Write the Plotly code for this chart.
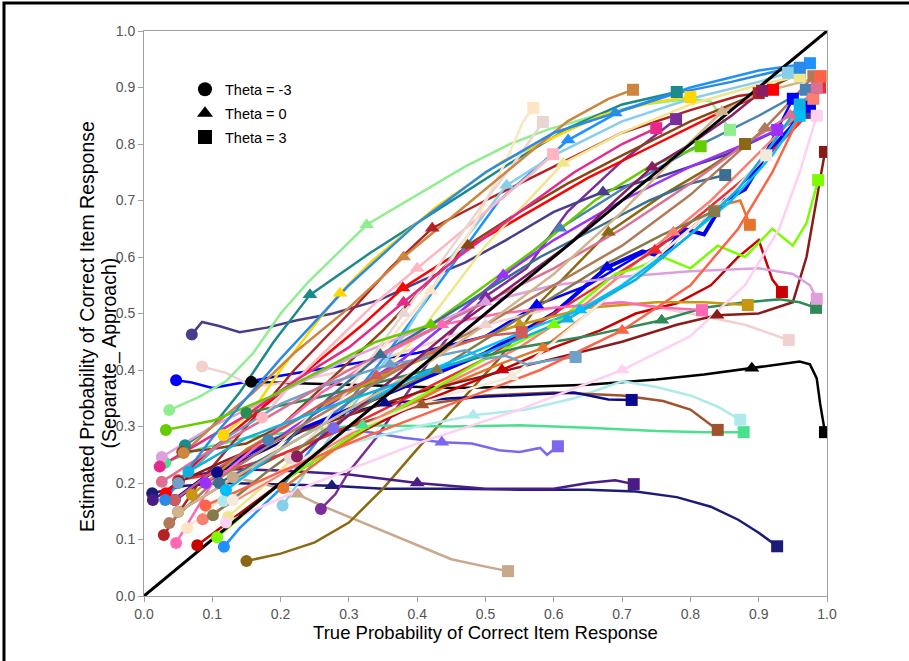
import plotly.graph_objects as go

# ---------------- data ----------------
X_TICKS = [0.0, 0.1, 0.2, 0.3, 0.4, 0.5, 0.6, 0.7, 0.8, 0.9, 1.0]
Y_TICKS = [0.0, 0.1, 0.2, 0.3, 0.4, 0.5, 0.6, 0.7, 0.8, 0.9, 1.0]
LEGEND_LABELS = ["Theta = -3", "Theta = 0", "Theta = 3"]
LEGEND_SYMBOLS = ["circle", "triangle-up", "square"]
X_TITLE = "True Probability of Correct Item Response"
Y_TITLE_LINES = ["Estimated Probability of Correct Item Response", "(Separate_ Approach)"]
DIAG_X = [0.0, 1.0]
DIAG_Y = [0.0, 1.0]

SERIES_COLORS = [
    "#000000", "#1c1c78", "#c9a98c", "#8b6914", "#4b1c85", "#7b2d9b", "#7b68ee",
    "#4be08e", "#aeeaea", "#a0522d", "#0a0a8c", "#0000ff", "#483d8b", "#f2d0d0",
    "#90ee90", "#1b8a8a", "#ffd700", "#b22222", "#8b4513", "#ff0000", "#1e90ff",
    "#87ceeb", "#f0e68c", "#4682b4", "#9b30ff", "#0000ee", "#fa8072", "#e8742a",
    "#ee2c2c", "#c80000", "#8b1a1a", "#7cfc00", "#2e8b57", "#dda0dd", "#c89610",
    "#ff69b4", "#ffb6c1", "#ffe4c4", "#e8d6d2", "#cd853f", "#e6298a", "#66cc00",
    "#f3e9dc", "#3b6e8f", "#857a4a", "#cd5c5c", "#6fa0c8", "#00bfff", "#db7093",
    "#b07a5a", "#8b1c62", "#2a8ae8", "#d2b48c", "#ffd0f0", "#ff6347", "#10b0e0",
]

SERIES_X = [
    [0.157, 0.25, 0.35, 0.45, 0.55, 0.65, 0.75, 0.82, 0.89, 0.93, 0.96, 0.975, 0.985, 0.99, 0.997],
    [0.012, 0.06, 0.12, 0.2, 0.275, 0.35, 0.45, 0.55, 0.65, 0.72, 0.78, 0.83, 0.87, 0.9, 0.927],
    [0.13, 0.17, 0.2, 0.225, 0.26, 0.3, 0.35, 0.4, 0.45, 0.5, 0.533],
    [0.15, 0.2, 0.25, 0.3, 0.35, 0.4, 0.46, 0.52, 0.58, 0.68, 0.76, 0.83, 0.88],
    [0.013, 0.06, 0.12, 0.2, 0.3, 0.4, 0.5, 0.6, 0.65, 0.69, 0.717],
    [0.259, 0.28, 0.3, 0.34, 0.38, 0.42, 0.46, 0.5, 0.56, 0.62, 0.7, 0.779],
    [0.277, 0.33, 0.38, 0.436, 0.48, 0.52, 0.55, 0.58, 0.59, 0.606],
    [0.031, 0.08, 0.15, 0.25, 0.32, 0.45, 0.55, 0.65, 0.75, 0.82, 0.878],
    [0.116, 0.2, 0.3, 0.4, 0.482, 0.56, 0.63, 0.7, 0.75, 0.8, 0.84, 0.873],
    [0.05, 0.12, 0.2, 0.3, 0.407, 0.5, 0.6, 0.7, 0.76, 0.8, 0.84],
    [0.107, 0.18, 0.26, 0.353, 0.45, 0.55, 0.63, 0.68, 0.714],
    [0.047, 0.07, 0.1, 0.13, 0.157, 0.2, 0.25, 0.3, 0.4, 0.5, 0.575, 0.65, 0.72, 0.8, 0.86, 0.9, 0.95],
    [0.07, 0.085, 0.11, 0.14, 0.18, 0.224, 0.277, 0.345, 0.41, 0.47, 0.53, 0.6, 0.672, 0.75, 0.85, 0.92, 0.975],
    [0.085, 0.12, 0.16, 0.22, 0.3, 0.4, 0.5, 0.6, 0.7, 0.8, 0.88, 0.944],
    [0.037, 0.08, 0.12, 0.16, 0.2, 0.24, 0.326, 0.4, 0.47, 0.536, 0.59, 0.66, 0.73, 0.8, 0.83, 0.858],
    [0.06, 0.1, 0.14, 0.19, 0.243, 0.331, 0.429, 0.536, 0.624, 0.7, 0.78],
    [0.116, 0.16, 0.2, 0.25, 0.287, 0.331, 0.429, 0.526, 0.668, 0.75, 0.8],
    [0.029, 0.08, 0.15, 0.22, 0.3, 0.36, 0.422, 0.5, 0.6, 0.7, 0.8, 0.87, 0.9],
    [0.056, 0.1, 0.15, 0.2, 0.27, 0.35, 0.42, 0.474, 0.55, 0.62, 0.7, 0.8, 0.9, 0.96],
    [0.032, 0.08, 0.14, 0.2, 0.26, 0.32, 0.379, 0.45, 0.55, 0.65, 0.75, 0.85, 0.921],
    [0.117, 0.14, 0.2, 0.27, 0.35, 0.43, 0.52, 0.621, 0.7, 0.8, 0.9, 0.975],
    [0.203, 0.26, 0.32, 0.38, 0.45, 0.531, 0.6, 0.7, 0.8, 0.9, 0.943],
    [0.123, 0.18, 0.25, 0.32, 0.4, 0.5, 0.614, 0.7, 0.8, 0.9, 0.96],
    [0.182, 0.25, 0.32, 0.4, 0.48, 0.55, 0.609, 0.7, 0.8, 0.9, 0.969],
    [0.09, 0.15, 0.22, 0.3, 0.38, 0.45, 0.526, 0.6, 0.7, 0.8, 0.9, 0.927],
    [0.045, 0.1, 0.2, 0.3, 0.4, 0.5, 0.6, 0.678, 0.73, 0.76, 0.79, 0.82, 0.85, 0.88, 0.91, 0.94, 0.975],
    [0.086, 0.15, 0.25, 0.35, 0.45, 0.55, 0.65, 0.72, 0.775, 0.83, 0.88, 0.93, 0.98],
    [0.204, 0.28, 0.36, 0.44, 0.52, 0.584, 0.65, 0.72, 0.78, 0.84, 0.873, 0.887],
    [0.05, 0.12, 0.2, 0.3, 0.4, 0.5, 0.6, 0.68, 0.748, 0.82, 0.88, 0.93, 0.97, 0.99],
    [0.078, 0.2, 0.3, 0.4, 0.524, 0.6, 0.668, 0.72, 0.78, 0.83, 0.87, 0.9, 0.92, 0.934],
    [0.051, 0.12, 0.2, 0.3, 0.4, 0.5, 0.6, 0.7, 0.78, 0.839, 0.9, 0.95, 0.97, 0.985, 0.997],
    [0.107, 0.2, 0.3, 0.4, 0.5, 0.6, 0.65, 0.69, 0.72, 0.76, 0.8, 0.84, 0.88, 0.92, 0.95, 0.97, 0.987],
    [0.15, 0.25, 0.35, 0.45, 0.55, 0.65, 0.758, 0.82, 0.88, 0.93, 0.96, 0.984],
    [0.026, 0.1, 0.2, 0.3, 0.4, 0.5, 0.6, 0.7, 0.8, 0.9, 0.95, 0.975, 0.985],
    [0.07, 0.15, 0.25, 0.35, 0.45, 0.55, 0.65, 0.75, 0.82, 0.884],
    [0.047, 0.1, 0.18, 0.26, 0.34, 0.436, 0.52, 0.6, 0.7, 0.76, 0.817],
    [0.173, 0.22, 0.28, 0.34, 0.4, 0.46, 0.52, 0.57, 0.599],
    [0.063, 0.12, 0.2, 0.28, 0.35, 0.42, 0.48, 0.53, 0.555, 0.57],
    [0.214, 0.26, 0.32, 0.38, 0.44, 0.5, 0.55, 0.584],
    [0.058, 0.1, 0.16, 0.22, 0.3, 0.38, 0.46, 0.54, 0.62, 0.68, 0.716],
    [0.023, 0.08, 0.15, 0.22, 0.3, 0.38, 0.46, 0.55, 0.63, 0.7, 0.75],
    [0.032, 0.1, 0.18, 0.26, 0.34, 0.42, 0.5, 0.58, 0.66, 0.74, 0.815],
    [0.13, 0.2, 0.3, 0.4, 0.539, 0.65, 0.75, 0.85, 0.911],
    [0.11, 0.2, 0.27, 0.346, 0.42, 0.5, 0.58, 0.66, 0.74, 0.8, 0.851],
    [0.101, 0.18, 0.26, 0.34, 0.429, 0.52, 0.6, 0.68, 0.76, 0.835],
    [0.045, 0.1, 0.18, 0.26, 0.34, 0.42, 0.5, 0.553],
    [0.05, 0.12, 0.2, 0.28, 0.36, 0.43, 0.47, 0.5, 0.53, 0.56, 0.6, 0.632],
    [0.12, 0.2, 0.3, 0.4, 0.5, 0.58, 0.638, 0.7, 0.78, 0.86, 0.92, 0.96],
    [0.026, 0.1, 0.2, 0.3, 0.4, 0.5, 0.6, 0.7, 0.8, 0.88, 0.946, 0.985],
    [0.037, 0.1, 0.2, 0.3, 0.4, 0.5, 0.6, 0.7, 0.8, 0.909, 0.95, 0.98],
    [0.224, 0.3, 0.38, 0.46, 0.54, 0.62, 0.69, 0.744, 0.8, 0.86, 0.905],
    [0.031, 0.1, 0.2, 0.3, 0.4, 0.5, 0.6, 0.69, 0.78, 0.86, 0.93, 0.96],
    [0.05, 0.12, 0.2, 0.3, 0.4, 0.5, 0.6, 0.7, 0.78, 0.846, 0.9, 0.995],
    [0.12, 0.25, 0.4, 0.55, 0.7, 0.8, 0.88, 0.93, 0.96, 0.985],
    [0.09, 0.2, 0.32, 0.45, 0.58, 0.7, 0.8, 0.87, 0.92, 0.96, 0.99],
    [0.065, 0.15, 0.26, 0.38, 0.5, 0.62, 0.72, 0.8, 0.87, 0.92, 0.96],
]

SERIES_Y = [
    [0.379, 0.375, 0.372, 0.368, 0.37, 0.374, 0.383, 0.392, 0.403, 0.41, 0.415, 0.41, 0.385, 0.34, 0.29],
    [0.182, 0.195, 0.2, 0.198, 0.195, 0.19, 0.19, 0.188, 0.188, 0.185, 0.175, 0.158, 0.135, 0.112, 0.088],
    [0.21, 0.2, 0.19, 0.18, 0.16, 0.14, 0.115, 0.09, 0.065, 0.052, 0.044],
    [0.062, 0.075, 0.095, 0.13, 0.19, 0.26, 0.34, 0.42, 0.52, 0.644, 0.71, 0.76, 0.8],
    [0.17, 0.21, 0.225, 0.222, 0.215, 0.2, 0.19, 0.19, 0.2, 0.205, 0.198],
    [0.154, 0.18, 0.22, 0.28, 0.35, 0.42, 0.48, 0.53, 0.58, 0.68, 0.77, 0.844],
    [0.297, 0.29, 0.28, 0.272, 0.27, 0.258, 0.255, 0.262, 0.25, 0.265],
    [0.236, 0.26, 0.28, 0.295, 0.302, 0.3, 0.302, 0.298, 0.292, 0.29, 0.29],
    [0.168, 0.22, 0.27, 0.3, 0.32, 0.33, 0.35, 0.38, 0.37, 0.355, 0.335, 0.312],
    [0.149, 0.2, 0.25, 0.3, 0.338, 0.355, 0.36, 0.355, 0.345, 0.33, 0.294],
    [0.219, 0.26, 0.31, 0.341, 0.35, 0.355, 0.36, 0.348, 0.347],
    [0.382, 0.378, 0.368, 0.375, 0.38, 0.39, 0.4, 0.41, 0.43, 0.46, 0.515, 0.55, 0.6, 0.65, 0.71, 0.76, 0.88],
    [0.463, 0.485, 0.478, 0.467, 0.475, 0.488, 0.5, 0.524, 0.56, 0.59, 0.63, 0.68, 0.715, 0.74, 0.78, 0.82, 0.855],
    [0.406, 0.395, 0.37, 0.38, 0.4, 0.44, 0.48, 0.51, 0.52, 0.5, 0.48, 0.453],
    [0.329, 0.352, 0.38, 0.43, 0.5, 0.555, 0.657, 0.71, 0.76, 0.8, 0.825, 0.85, 0.87, 0.88, 0.875, 0.825],
    [0.267, 0.3, 0.36, 0.45, 0.533, 0.607, 0.683, 0.766, 0.83, 0.87, 0.892],
    [0.285, 0.33, 0.4, 0.48, 0.536, 0.59, 0.69, 0.77, 0.85, 0.875, 0.883],
    [0.108, 0.2, 0.3, 0.4, 0.5, 0.58, 0.651, 0.7, 0.76, 0.82, 0.86, 0.885, 0.89],
    [0.255, 0.26, 0.27, 0.3, 0.38, 0.47, 0.56, 0.621, 0.68, 0.73, 0.78, 0.84, 0.89, 0.926],
    [0.182, 0.24, 0.3, 0.36, 0.42, 0.48, 0.545, 0.6, 0.67, 0.74, 0.8, 0.86, 0.896],
    [0.087, 0.12, 0.19, 0.3, 0.42, 0.55, 0.7, 0.807, 0.86, 0.9, 0.93, 0.943],
    [0.16, 0.26, 0.36, 0.46, 0.6, 0.727, 0.78, 0.84, 0.88, 0.91, 0.926],
    [0.14, 0.2, 0.28, 0.36, 0.46, 0.62, 0.766, 0.82, 0.87, 0.905, 0.92],
    [0.276, 0.3, 0.36, 0.44, 0.52, 0.59, 0.651, 0.72, 0.79, 0.85, 0.896],
    [0.2, 0.24, 0.3, 0.36, 0.42, 0.49, 0.568, 0.63, 0.7, 0.76, 0.81, 0.825],
    [0.17, 0.22, 0.28, 0.33, 0.38, 0.43, 0.5, 0.582, 0.61, 0.6, 0.65, 0.64, 0.7, 0.72, 0.78, 0.82, 0.866],
    [0.136, 0.18, 0.25, 0.32, 0.38, 0.44, 0.52, 0.59, 0.644, 0.7, 0.76, 0.82, 0.88],
    [0.191, 0.26, 0.32, 0.37, 0.41, 0.439, 0.5, 0.57, 0.63, 0.69, 0.7, 0.657],
    [0.205, 0.22, 0.25, 0.3, 0.36, 0.42, 0.5, 0.56, 0.612, 0.68, 0.74, 0.8, 0.85, 0.9],
    [0.09, 0.2, 0.28, 0.34, 0.4, 0.44, 0.47, 0.5, 0.518, 0.55, 0.6, 0.63, 0.56, 0.538],
    [0.202, 0.24, 0.28, 0.32, 0.36, 0.39, 0.42, 0.45, 0.48, 0.497, 0.5, 0.52, 0.6, 0.7, 0.786],
    [0.104, 0.2, 0.28, 0.35, 0.42, 0.48, 0.53, 0.57, 0.58, 0.6, 0.58, 0.62, 0.6, 0.65, 0.62, 0.66, 0.736],
    [0.324, 0.35, 0.38, 0.41, 0.44, 0.46, 0.488, 0.51, 0.52, 0.525, 0.52, 0.51],
    [0.246, 0.3, 0.36, 0.42, 0.47, 0.52, 0.55, 0.565, 0.575, 0.58, 0.57, 0.55, 0.526],
    [0.179, 0.26, 0.33, 0.39, 0.44, 0.48, 0.51, 0.52, 0.52, 0.515],
    [0.094, 0.2, 0.28, 0.36, 0.42, 0.48, 0.5, 0.51, 0.52, 0.51, 0.506],
    [0.316, 0.38, 0.45, 0.52, 0.58, 0.64, 0.7, 0.75, 0.782],
    [0.12, 0.18, 0.27, 0.36, 0.44, 0.54, 0.65, 0.77, 0.84, 0.864],
    [0.244, 0.3, 0.4, 0.5, 0.6, 0.7, 0.78, 0.839],
    [0.253, 0.3, 0.36, 0.43, 0.51, 0.6, 0.68, 0.76, 0.84, 0.88, 0.896],
    [0.229, 0.27, 0.32, 0.38, 0.44, 0.52, 0.6, 0.68, 0.75, 0.8, 0.828],
    [0.294, 0.31, 0.35, 0.4, 0.45, 0.48, 0.55, 0.62, 0.7, 0.76, 0.796],
    [0.17, 0.22, 0.29, 0.34, 0.388, 0.5, 0.6, 0.7, 0.78],
    [0.2, 0.26, 0.35, 0.427, 0.48, 0.54, 0.6, 0.65, 0.7, 0.73, 0.745],
    [0.143, 0.22, 0.29, 0.35, 0.4, 0.47, 0.53, 0.59, 0.64, 0.681],
    [0.17, 0.22, 0.28, 0.34, 0.39, 0.43, 0.46, 0.467],
    [0.2, 0.28, 0.34, 0.38, 0.41, 0.425, 0.435, 0.42, 0.425, 0.41, 0.418, 0.423],
    [0.187, 0.26, 0.33, 0.39, 0.44, 0.48, 0.506, 0.55, 0.62, 0.7, 0.78, 0.85],
    [0.202, 0.26, 0.33, 0.4, 0.46, 0.52, 0.58, 0.65, 0.73, 0.8, 0.851, 0.9],
    [0.129, 0.2, 0.28, 0.35, 0.42, 0.48, 0.55, 0.62, 0.71, 0.828, 0.88, 0.92],
    [0.247, 0.32, 0.4, 0.48, 0.55, 0.62, 0.7, 0.759, 0.8, 0.85, 0.894],
    [0.17, 0.28, 0.42, 0.55, 0.66, 0.75, 0.82, 0.855, 0.89, 0.91, 0.93, 0.935],
    [0.149, 0.2, 0.26, 0.33, 0.4, 0.48, 0.57, 0.68, 0.78, 0.857, 0.89, 0.92],
    [0.13, 0.2, 0.27, 0.33, 0.4, 0.46, 0.55, 0.65, 0.75, 0.85],
    [0.16, 0.22, 0.28, 0.34, 0.4, 0.47, 0.55, 0.65, 0.75, 0.85, 0.92],
    [0.22, 0.28, 0.33, 0.38, 0.43, 0.49, 0.56, 0.64, 0.72, 0.8, 0.87],
]

MID_INDEX = [
    8, 4, 3, 9, 5, 7, 3, 4, 4, 4, 3, 10, 12, 6, 6, 4, 4, 6, 7, 6, 7, 5, 6, 6, 6, 7,
    8, 5, 8, 4, 9, 5, 6, 5, 5, 5, 4, 5, 3, 5, 5, 5, 4, 3, 4, 4, 4, 6, 10, 9, 7, 7, 9,
    4, 5, 5,
]

SERIES_WIDTH = [2.5 if c != "#0000ee" else 4 for c in SERIES_COLORS]

FONT = "Liberation Sans, Arial, sans-serif"

fig = go.Figure()

# lines
for xs, ys, col, w in zip(SERIES_X, SERIES_Y, SERIES_COLORS, SERIES_WIDTH):
    fig.add_trace(go.Scatter(x=xs, y=ys, mode="lines",
                             line=dict(color=col, width=w),
                             showlegend=False, hoverinfo="skip"))

# identity line
fig.add_trace(go.Scatter(x=DIAG_X, y=DIAG_Y, mode="lines",
                         line=dict(color="black", width=3),
                         showlegend=False, hoverinfo="skip"))

# markers: start (circle), middle (triangle), end (square)
for xs, ys, col, m in zip(SERIES_X, SERIES_Y, SERIES_COLORS, MID_INDEX):
    fig.add_trace(go.Scatter(x=[xs[0], xs[m], xs[-1]], y=[ys[0], ys[m], ys[-1]],
                             mode="markers", opacity=1,
                             marker=dict(symbol=LEGEND_SYMBOLS, size=[12, 13, 12],
                                         color=col, opacity=1, line=dict(width=0)),
                             showlegend=False, hoverinfo="skip"))

# legend entries
for i, (lab, sym) in enumerate(zip(LEGEND_LABELS, LEGEND_SYMBOLS)):
    fig.add_trace(go.Scatter(x=[None], y=[None], mode="markers", name=lab,
                             legendgroup=f"g{i}",
                             marker=dict(symbol=sym, size=14, color="black")))

axis_common = dict(
    range=[0, 1], showgrid=False, zeroline=False,
    showline=True, linecolor="#a0a0a0", linewidth=1, mirror=True,
    ticks="outside", ticklen=5, tickcolor="#a0a0a0", tickwidth=1,
    tickformat=".1f",
    tickfont=dict(family="Liberation Sans Narrow, " + FONT, size=14, color="#555555"),
)

fig.update_layout(
    width=909, height=661,
    margin=dict(l=144, r=82, t=31, b=65),
    paper_bgcolor="white", plot_bgcolor="white",
    font=dict(family=FONT, color="black"),
    xaxis=dict(tickvals=X_TICKS,
               title=dict(text=X_TITLE,
                          font=dict(family=FONT, size=18.5, color="black"), standoff=3),
               **axis_common),
    yaxis=dict(tickvals=Y_TICKS, **axis_common),
    legend=dict(x=0.06, y=0.925, xanchor="left", yanchor="top",
                bgcolor="rgba(0,0,0,0)", tracegroupgap=2,
                font=dict(family=FONT, size=14.5, color="black")),
    annotations=[
        dict(text=Y_TITLE_LINES[0], xref="paper", yref="paper",
             x=-0.0835, y=0.478, xanchor="center", yanchor="middle",
             textangle=-90, showarrow=False,
             font=dict(family=FONT, size=19.5, color="black")),
        dict(text=Y_TITLE_LINES[1], xref="paper", yref="paper",
             x=-0.0505, y=0.43, xanchor="center", yanchor="middle",
             textangle=-90, showarrow=False,
             font=dict(family=FONT, size=19.5, color="black")),
    ],
    shapes=[dict(type="rect", xref="paper", yref="paper",
                 x0=-0.205, x1=1.3, y0=-0.3, y1=1.0496,
                 line=dict(color="black", width=3), fillcolor="rgba(0,0,0,0)",
                 layer="above")],
)

fig.write_html("out.html", config={"displayModeBar": False},
               post_script="document.body.style.margin='0px';document.body.style.overflow='hidden';")
